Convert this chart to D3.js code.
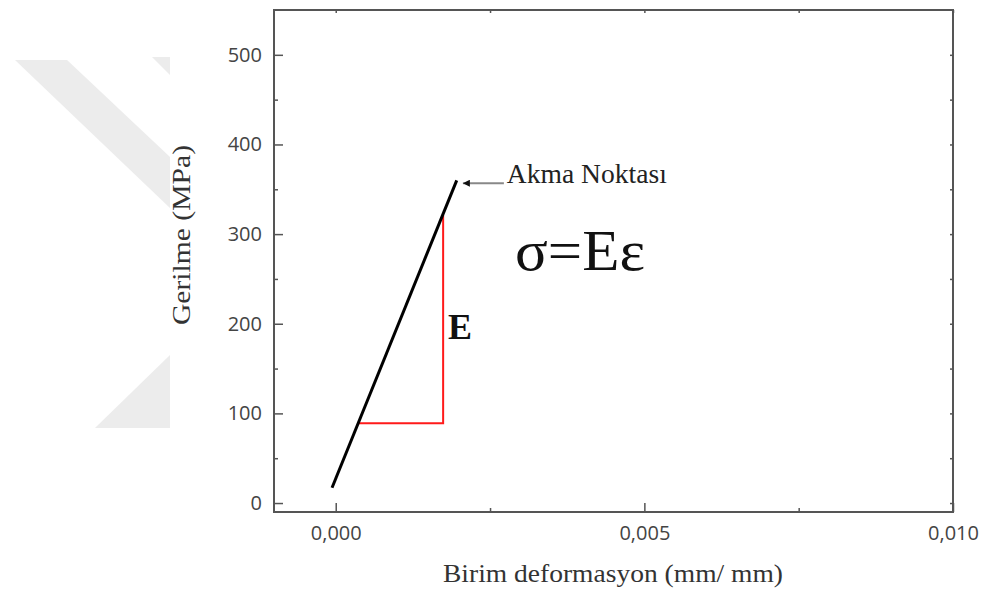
<!DOCTYPE html>
<html>
<head>
<meta charset="utf-8">
<script src="https://cdn.jsdelivr.net/npm/d3@7"></script>
<style>
  body { margin: 0; background: #fff; }
  svg { display: block; }
</style>
</head>
<body>
<div id="chart"></div>
<script>
// gerilme - birim deformasyon verisi
var strain = [-0.00006, 0.00196]
var stress = [17, 360]
// E egimini gosteren kirmizi ucgen
var slopeX = [0.00036, 0.00174, 0.00174]
var slopeY = [89, 89, 321]
// eksen etiketleri
var xTicks = [0, 0.005, 0.010]
var xMinor = [0.0025, 0.0075]
var yTicks = [0, 100, 200, 300, 400, 500]
var yMinor = [50, 150, 250, 350, 450]
var yieldPoint = [0.00206, 359]

var chart_width = 981
var chart_height = 592
var pLeft = 274, pRight = 953, pTop = 10, pBottom = 512

var svg = d3.select('#chart')
    .append('svg')
    .attr('width', chart_width)
    .attr('height', chart_height)

// arka plandaki filigran
var wm = '#ececec'
svg.append('path').attr('d', 'M15,60 L67,60 L170,157 L170,208 Z').attr('fill', wm)
svg.append('path').attr('d', 'M152,57 L170,57 L170,75 Z').attr('fill', wm)
svg.append('path').attr('d', 'M95,428 L170,428 L170,355 Z').attr('fill', wm)

var x = d3.scaleLinear().domain([-0.001, 0.010]).range([pLeft, pRight])
var y = d3.scaleLinear().domain([-10, 550]).range([pBottom, pTop])

var tr = d3.formatLocale({decimal: ',', thousands: '.', grouping: [3], currency: ['', '']})
var fmt = tr.format('.3f')

var axisColor = '#555'
var tickFont = '"Open Sans", sans-serif'

function styleAxis(g) {
    g.select('.domain').remove()
    g.selectAll('line').attr('stroke', axisColor).attr('stroke-width', 1.5)
    g.selectAll('text').attr('fill', '#444').style('font-family', tickFont).style('font-size', '20px')
}

// alt eksen
svg.append('g')
    .attr('transform', 'translate(0,' + pBottom + ')')
    .call(d3.axisBottom(x).tickValues(xTicks).tickSize(-9).tickSizeOuter(0).tickPadding(14).tickFormat(fmt))
    .call(styleAxis)
svg.append('g')
    .attr('transform', 'translate(0,' + pBottom + ')')
    .call(d3.axisBottom(x).tickValues(xMinor).tickSize(-4).tickSizeOuter(0).tickFormat(''))
    .call(styleAxis)
// ust eksen
svg.append('g')
    .attr('transform', 'translate(0,' + pTop + ')')
    .call(d3.axisTop(x).tickValues(xTicks.concat(xMinor)).tickSize(-3).tickSizeOuter(0).tickFormat(''))
    .call(styleAxis)
// sol eksen
svg.append('g')
    .attr('transform', 'translate(' + pLeft + ',0)')
    .call(d3.axisLeft(y).tickValues(yTicks).tickSize(-9).tickSizeOuter(0).tickPadding(12))
    .call(styleAxis)
svg.append('g')
    .attr('transform', 'translate(' + pLeft + ',0)')
    .call(d3.axisLeft(y).tickValues(yMinor).tickSize(-4).tickSizeOuter(0).tickFormat(''))
    .call(styleAxis)
// sag eksen
svg.append('g')
    .attr('transform', 'translate(' + pRight + ',0)')
    .call(d3.axisRight(y).tickValues(yTicks.concat(yMinor)).tickSize(-3).tickSizeOuter(0).tickFormat(''))
    .call(styleAxis)

// cerceve
svg.append('rect')
    .attr('x', pLeft).attr('y', pTop)
    .attr('width', pRight - pLeft).attr('height', pBottom - pTop)
    .attr('fill', 'none')
    .attr('stroke', axisColor)
    .attr('stroke-width', 2)

var line = d3.line()
    .x(function(d){ return x(d[0]) })
    .y(function(d){ return y(d[1]) })

svg.append('path')
    .datum(d3.zip(slopeX, slopeY))
    .attr('d', line)
    .attr('fill', 'none')
    .attr('stroke', '#ff1a1a')
    .attr('stroke-width', 2)

svg.append('path')
    .datum(d3.zip(strain, stress))
    .attr('d', line)
    .attr('fill', 'none')
    .attr('stroke', '#000')
    .attr('stroke-width', 3)

// akma noktasi oku
svg.append('defs').append('marker')
    .attr('id', 'arrow')
    .attr('viewBox', '0 0 10 10')
    .attr('refX', 0).attr('refY', 5)
    .attr('markerWidth', 14).attr('markerHeight', 7)
    .attr('markerUnits', 'userSpaceOnUse')
    .attr('orient', 'auto')
    .append('path')
    .attr('d', 'M0,5 L10,0 L10,10 Z')
    .attr('fill', '#111')

svg.append('line')
    .attr('x1', x(yieldPoint[0])).attr('y1', y(yieldPoint[1]) + 2)
    .attr('x2', x(yieldPoint[0]) + 41).attr('y2', y(yieldPoint[1]) + 2)
    .attr('stroke', '#888')
    .attr('stroke-width', 2)
    .attr('marker-start', 'url(#arrow)')

var serif = '"Liberation Serif", "Times New Roman", serif'

svg.append('text')
    .attr('x', x(yieldPoint[0]) + 44)
    .attr('y', y(yieldPoint[1]) + 2)
    .attr('textLength', 160)
    .attr('lengthAdjust', 'spacingAndGlyphs')
    .style('font-family', serif)
    .style('font-size', '27px')
    .attr('fill', '#222')
    .text('Akma Noktası')

svg.append('text')
    .attr('x', 515)
    .attr('y', 270)
    .attr('textLength', 130)
    .attr('lengthAdjust', 'spacingAndGlyphs')
    .style('font-family', serif)
    .style('font-size', '57px')
    .attr('fill', '#111')
    .text('σ=Eε')

svg.append('text')
    .attr('x', 448)
    .attr('y', 339)
    .style('font-family', serif)
    .style('font-size', '36px')
    .style('font-weight', 'bold')
    .attr('fill', '#111')
    .text('E')

// eksen basliklari
svg.append('text')
    .attr('x', 613)
    .attr('y', 582)
    .attr('text-anchor', 'middle')
    .attr('textLength', 340)
    .attr('lengthAdjust', 'spacingAndGlyphs')
    .style('font-family', serif)
    .style('font-size', '26px')
    .attr('fill', '#333')
    .text('Birim deformasyon (mm/ mm)')

svg.append('text')
    .attr('transform', 'translate(190,235) rotate(-90)')
    .attr('text-anchor', 'middle')
    .attr('textLength', 180)
    .attr('lengthAdjust', 'spacingAndGlyphs')
    .style('font-family', serif)
    .style('font-size', '26px')
    .attr('fill', '#333')
    .text('Gerilme (MPa)')
</script>
</body>
</html>
